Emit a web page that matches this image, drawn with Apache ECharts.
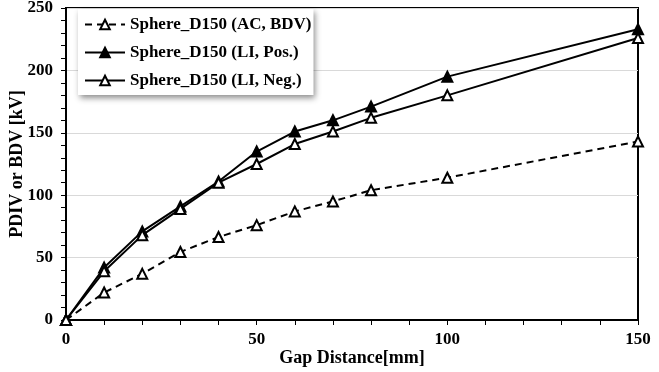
<!DOCTYPE html>
<html><head><meta charset="utf-8">
<script src="https://cdn.jsdelivr.net/npm/echarts@6/dist/echarts.min.js"></script>
<style>html,body{margin:0;padding:0;background:#fff}#c{width:659px;height:372px}</style>
</head><body><div id="c"></div>
<script>
var gaps = [0, 10, 20, 30, 40, 50, 60, 70, 80, 100, 150];
var acBDV = [0, 22, 37, 54.5, 66.5, 76, 87, 95, 104, 114, 143];
var liPos = [0, 42, 71, 91, 111, 135, 151, 160, 171, 195, 233];
var liNeg = [0, 39, 68, 89, 110, 125, 141, 151, 162, 180, 226];
var seriesNames = ['Sphere_D150 (AC, BDV)', 'Sphere_D150 (LI, Pos.)', 'Sphere_D150 (LI, Neg.)'];
var xName = 'Gap Distance[mm]';
var yName = 'PDIV or BDV [kV]';

function pairs(ys){ return gaps.map(function(g,i){ return [g, ys[i]]; }); }
var font = '"Liberation Serif", "Times New Roman", serif';
var chart = echarts.init(document.getElementById('c'));
function mk(name, ys, dashed, filled){
  return {
    name: name, type: 'line', data: pairs(ys),
    symbol: 'triangle', symbolSize: 10,
    itemStyle: {color: filled ? '#000' : '#fff', borderColor: '#000', borderWidth: 2},
    lineStyle: {color: '#000', width: 2, type: dashed ? [7, 5] : 'solid'},
    emphasis: {disabled: true}, animation: false
  };
}
chart.setOption({
  animation: false,
  grid: {left: 66, right: 21, top: 8, bottom: 52, show: true, borderColor: '#000', borderWidth: 2,
         containLabel: false, outerBoundsMode: 'none'},
  legend: {
    left: 78, top: 9, orient: 'vertical', itemGap: 11, itemWidth: 40, itemHeight: 12,
    padding: [7, 2, 6, 6],
    backgroundColor: '#fff', shadowBlur: 6, shadowColor: 'rgba(0,0,0,0.45)', shadowOffsetX: 2, shadowOffsetY: 3,
    textStyle: {fontFamily: font, fontWeight: 'bold', fontSize: 17, color: '#000'},
    data: seriesNames
  },
  xAxis: {
    type: 'value', min: 0, max: 150, interval: 50,
    name: xName, nameLocation: 'middle', nameGap: 29, nameMoveOverlap: false,
    nameTextStyle: {fontFamily: font, fontWeight: 'bold', fontSize: 18, color: '#000'},
    axisLine: {lineStyle: {color: '#000', width: 2}},
    axisTick: {show: true, length: 5, lineStyle: {color: '#000', width: 1}},
    minorTick: {show: true, splitNumber: 5, length: 5, lineStyle: {color: '#000', width: 1}},
    axisLabel: {fontFamily: font, fontWeight: 'bold', fontSize: 17, color: '#000', margin: 11},
    splitLine: {show: false}
  },
  yAxis: {
    type: 'value', min: 0, max: 250, interval: 50,
    name: yName, nameLocation: 'middle', nameGap: 40, nameRotate: 90, nameMoveOverlap: false,
    nameTextStyle: {fontFamily: font, fontWeight: 'bold', fontSize: 18, color: '#000'},
    axisLine: {lineStyle: {color: '#000', width: 2}},
    axisTick: {show: true, length: 5, lineStyle: {color: '#000', width: 1}},
    minorTick: {show: true, splitNumber: 5, length: 5, lineStyle: {color: '#000', width: 1}},
    axisLabel: {fontFamily: font, fontWeight: 'bold', fontSize: 17, color: '#000', margin: 13},
    splitLine: {show: true, lineStyle: {color: '#d9d9d9', width: 1}}
  },
  series: [
    mk(seriesNames[0], acBDV, true, false),
    mk(seriesNames[1], liPos, false, true),
    mk(seriesNames[2], liNeg, false, false)
  ]
});
</script></body></html>
